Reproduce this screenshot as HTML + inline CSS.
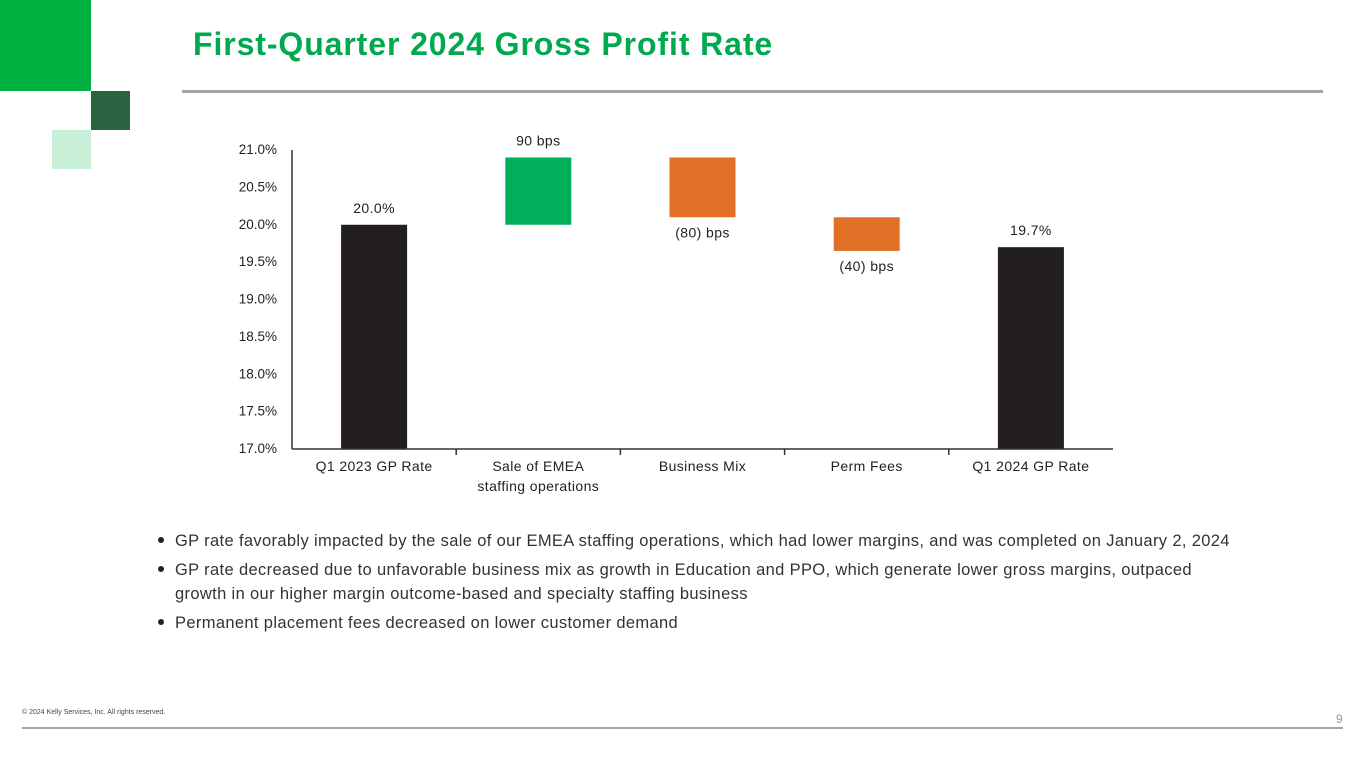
<!DOCTYPE html>
<html><head><meta charset="utf-8"><style>
body{margin:0;width:1365px;height:768px;background:#fff;position:relative;overflow:hidden;font-family:"Liberation Sans",sans-serif;color:#222}
.abs{position:absolute}
ul{position:absolute;left:155px;top:529px;margin:0;padding:0;list-style:none;font-size:16.5px;letter-spacing:0.35px;color:#333;width:1080px}
li{position:relative;padding-left:20px;line-height:24.5px;margin-bottom:4px}
li:before{content:"";position:absolute;left:3px;top:8px;width:6px;height:6px;border-radius:3px;background:#222}
</style></head><body>
<div class="abs" style="left:0;top:0;width:91px;height:91px;background:#00B140"></div>
<div class="abs" style="left:91px;top:91px;width:39px;height:39px;background:#2A6340"></div>
<div class="abs" style="left:52px;top:130px;width:39px;height:39px;background:#C8EFD8"></div>
<div class="abs" style="left:193px;top:26px;font-size:32px;letter-spacing:0.9px;font-weight:bold;color:#00A94F">First-Quarter 2024 Gross Profit Rate</div>
<div class="abs" style="left:182px;top:90px;width:1141px;height:3px;background:#A8A5A6"></div>
<svg class="abs" style="left:0;top:0" width="1365" height="520" id="chart"></svg>
<ul>
<li>GP rate favorably impacted by the sale of our EMEA staffing operations, which had lower margins, and was completed on January 2, 2024</li>
<li>GP rate decreased due to unfavorable business mix as growth in Education and PPO, which generate lower gross margins, outpaced growth in our higher margin outcome-based and specialty staffing business</li>
<li>Permanent placement fees decreased on lower customer demand</li>
</ul>
<div class="abs" style="left:22px;top:709px;font-size:7px;color:#444">© 2024 Kelly Services, Inc. All rights reserved.</div>
<div class="abs" style="left:1336px;top:712px;font-size:12px;color:#999">9</div>
<div class="abs" style="left:22px;top:727px;width:1321px;height:2px;background:#A8A5A6"></div>
<script>
const categories=["Q1 2023 GP Rate","Sale of EMEA|staffing operations","Business Mix","Perm Fees","Q1 2024 GP Rate"];
const starts=[17.0,20.0,20.9,20.1,17.0];
const ends=[20.0,20.9,20.1,19.65,19.7];
const labels=["20.0%","90  bps","(80) bps","(40) bps","19.7%"];
const kinds=["total","up","down","down","total"];
const yTicks=[17.0,17.5,18.0,18.5,19.0,19.5,20.0,20.5,21.0];
const svg=document.getElementById('chart');const NS="http://www.w3.org/2000/svg";
const x0=292,x1=1113,yMin=17,yMax=21,py0=449,py1=150;
const y=v=>py0-(v-yMin)/(yMax-yMin)*(py0-py1);
const band=(x1-x0)/categories.length;const cx=i=>x0+band*(i+0.5);
function mk(t,a){const e=document.createElementNS(NS,t);for(const k in a)e.setAttribute(k,a[k]);svg.appendChild(e);return e;}
const font='font-family:"Liberation Sans",sans-serif;font-size:13.5px;fill:#222';
const xfont='font-family:"Liberation Sans",sans-serif;font-size:14px;letter-spacing:0.4px;fill:#222';
yTicks.forEach(v=>{const t=mk('text',{x:x0-15,y:y(v)+4,'text-anchor':'end',style:font});t.textContent=v.toFixed(1)+'%';
});
const colors={total:"#231F20",up:"#00AF5A",down:"#E07026"};
categories.forEach((c,i)=>{const top=Math.max(starts[i],ends[i]),bot=Math.min(starts[i],ends[i]);
const r=mk('rect',{x:cx(i)-33,y:y(top),width:66,height:y(bot)-y(top),fill:colors[kinds[i]]});

let ly=kinds[i]==='down'?y(bot)+20:y(top)-12;
const l=mk('text',{x:cx(i),y:ly,'text-anchor':'middle',style:xfont});l.textContent=labels[i];

c.split('|').forEach((s,j)=>{const t=mk('text',{x:cx(i),y:471+j*20,'text-anchor':'middle',style:xfont});t.textContent=s;
});
if(i>0){const tk=mk('line',{x1:x0+band*i,x2:x0+band*i,y1:py0,y2:py0+6,stroke:'#333','stroke-width':1.5});
}
});
const ax=mk('line',{x1:x0,x2:x0,y1:py1,y2:py0,stroke:'#333','stroke-width':1.5});

const bx=mk('line',{x1:x0,x2:x1,y1:py0,y2:py0,stroke:'#333','stroke-width':1.5});

</script>
</body></html>
